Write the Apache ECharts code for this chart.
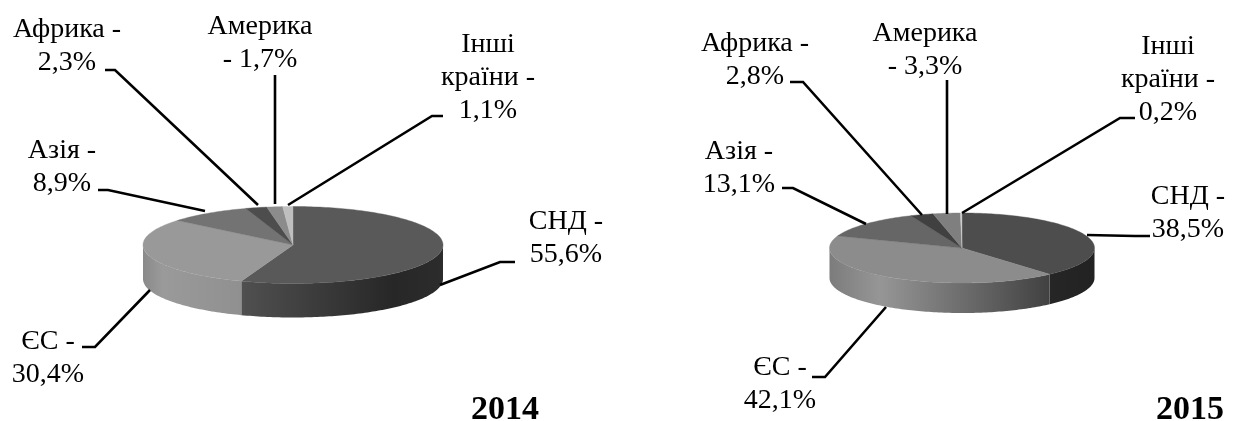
<!DOCTYPE html>
<html>
<head>
<meta charset="utf-8">
<style>html,body{margin:0;padding:0;background:#fff}#c{width:1237px;height:421px}</style>
<script src="https://cdn.jsdelivr.net/npm/echarts@6/dist/echarts.min.js"></script>
</head>
<body>
<div id="c"></div>
<script>
// Data
const categories = ['СНД', 'ЄС', 'Азія', 'Африка', 'Америка', 'Інші країни'];
const values2014 = [55.6, 30.4, 8.9, 2.3, 1.7, 1.1];
const values2015 = [38.5, 42.1, 13.1, 2.8, 3.3, 0.2];
const labels2014 = ['СНД -\n55,6%', 'ЄС -\n30,4%', 'Азія -\n8,9%', 'Африка -\n2,3%', 'Америка\n- 1,7%', 'Інші\nкраїни -\n1,1%'];
const labels2015 = ['СНД -\n38,5%', 'ЄС -\n42,1%', 'Азія -\n13,1%', 'Африка -\n2,8%', 'Америка\n- 3,3%', 'Інші\nкраїни -\n0,2%'];
const years = ['2014', '2015'];

// Layout and styles
const layout2014 = {
  cx: 293, cy: 245, rx: 150, ry: 38.5, depth: 34,
  top: ['#595959', '#999999', '#737373', '#4d4d4d', '#8c8c8c', '#bfbfbf'],
  side: [
    [[0, '#505050'], [0.75, '#272727'], [1, '#2c2c2c']],
    [[0, '#8a8a8a'], [0.2, '#9a9a9a'], [1, '#909090']]
  ],
  yearPos: [505, 410],
  labelPos: [[566, 238], [48, 358], [62, 167], [67, 46], [260, 43], [488, 78]],
  leaders: [
    [[515, 262], [500, 262], [440, 285]],
    [[82, 347], [95, 347], [150, 290]],
    [[98, 190], [108, 190], [205, 211]],
    [[105, 70], [115, 70], [258, 205]],
    [[275, 75], [275, 204]],
    [[443, 116], [432, 116], [288, 205]]
  ]
};
const layout2015 = {
  cx: 962, cy: 248, rx: 132.5, ry: 35, depth: 30,
  top: ['#4d4d4d', '#8c8c8c', '#666666', '#404040', '#7f7f7f', '#cccccc'],
  side: [
    [[0, '#262626'], [1, '#222222']],
    [[0, '#7c7c7c'], [0.23, '#969696'], [1, '#414141']]
  ],
  yearPos: [1190, 410],
  labelPos: [[1188, 213], [780, 384], [739, 168], [755, 60], [925, 50], [1168, 80]],
  leaders: [
    [[1150, 236], [1135, 236], [1087, 235]],
    [[812, 377], [825, 377], [886, 307]],
    [[782, 188], [793, 188], [866, 224]],
    [[790, 82], [803, 82], [922, 215]],
    [[947, 80], [947, 214]],
    [[1135, 118], [1120, 118], [962, 213]]
  ]
};
const FONT = '"Liberation Serif", "Times New Roman", serif';

function arcPoints(L, a0, a1, dy) {
  const pts = [];
  const n = Math.max(2, Math.ceil(Math.abs(a1 - a0) / 0.02));
  for (let i = 0; i <= n; i++) {
    const a = a0 + (a1 - a0) * i / n;
    pts.push([L.cx + L.rx * Math.sin(a), L.cy - L.ry * Math.cos(a) + dy]);
  }
  return pts;
}

function makeRender(values, labels, L, year) {
  const total = values.reduce((s, v) => s + v, 0);
  return function (params, api) {
    const i = params.dataIndex;
    let before = 0;
    for (let k = 0; k < i; k++) before += values[k];
    const a0 = before / total * Math.PI * 2;
    const a1 = (before + api.value(0)) / total * Math.PI * 2;
    const children = [];

    // side wall: only the front half of the disc shows it
    const s0 = Math.max(a0, Math.PI / 2), s1 = Math.min(a1, Math.PI * 3 / 2);
    if (s1 > s0 && L.side[i]) {
      const top = arcPoints(L, s0, s1, 0), bottom = arcPoints(L, s1, s0, L.depth);
      const all = top.concat(bottom), xs = all.map(p => p[0]);
      children.push({
        type: 'polygon',
        shape: { points: all },
        style: {
          fill: {
            type: 'linear', global: true,
            x: Math.min.apply(null, xs), y: 0, x2: Math.max.apply(null, xs), y2: 0,
            colorStops: L.side[i].map(s => ({ offset: s[0], color: s[1] }))
          }
        }
      });
    }
    // top face
    children.push({
      type: 'polygon',
      shape: { points: [[L.cx, L.cy]].concat(arcPoints(L, a0, a1, 0)) },
      style: { fill: L.top[i], stroke: L.top[i], lineWidth: 0.4 }
    });
    // leader line
    children.push({
      type: 'polyline',
      shape: { points: L.leaders[i] },
      style: { fill: 'none', stroke: '#000', lineWidth: 2.6 }
    });
    // label
    children.push({
      type: 'text',
      x: L.labelPos[i][0], y: L.labelPos[i][1],
      style: {
        text: labels[i], fill: '#000', font: '28px ' + FONT,
        align: 'center', verticalAlign: 'middle', lineHeight: 33
      }
    });
    if (i === 0) {
      children.push({
        type: 'text',
        x: L.yearPos[0], y: L.yearPos[1],
        style: { text: year, fill: '#000', font: 'bold 34px ' + FONT, align: 'center', verticalAlign: 'middle' }
      });
    }
    return { type: 'group', children: children };
  };
}

function seriesFor(values, labels, L, year) {
  return {
    type: 'custom',
    name: year,
    coordinateSystem: 'none',
    silent: true,
    data: values.map((v, i) => ({ name: categories[i], value: [v] })),
    renderItem: makeRender(values, labels, L, year)
  };
}

const chart = echarts.init(document.getElementById('c'));
chart.setOption({
  backgroundColor: '#fff',
  animation: false,
  series: [
    seriesFor(values2014, labels2014, layout2014, years[0]),
    seriesFor(values2015, labels2015, layout2015, years[1])
  ]
});
</script>
</body>
</html>
